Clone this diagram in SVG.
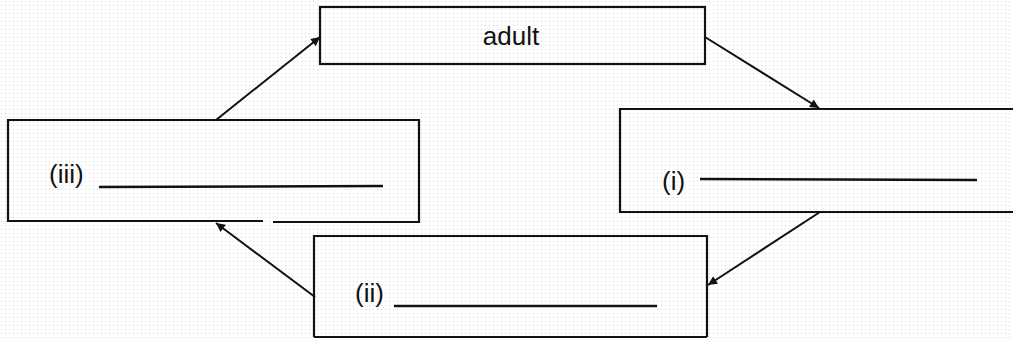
<svg xmlns="http://www.w3.org/2000/svg" width="1013" height="338" viewBox="0 0 1013 338">
<defs>
<pattern id="dots" width="4" height="4" patternUnits="userSpaceOnUse"><rect x="1" y="1" width="1" height="1" fill="#d4d4d4"/></pattern>
<marker id="ah" viewBox="0 0 10 10" refX="10" refY="5" markerWidth="10" markerHeight="9" markerUnits="userSpaceOnUse" orient="auto"><path d="M0,0 L10,5 L0,10 Z" fill="#111"/></marker>
<style>
.box{fill:none;stroke:#111;stroke-width:2.2}
.lbl{font-family:"Liberation Sans",Arial,sans-serif;font-size:26px;fill:#111}
.blank{stroke:#111;stroke-width:2.5}
.conn{stroke:#111;stroke-width:2;fill:none}
</style>
</defs>
<rect width="1013" height="338" fill="#fff"/>
<rect width="1013" height="338" fill="url(#dots)"/>
<g id="adult">
<rect class="box" x="320" y="7" width="385" height="57"/>
<text class="lbl" x="511" y="45" text-anchor="middle">adult</text>
</g>
<g id="stage-i">
<path class="box" d="M1015,109 L620,109 L620,212 L1015,212"/>
<text class="lbl" x="662" y="190">(i)</text>
<line class="blank" x1="700" y1="179" x2="977" y2="180"/>
</g>
<g id="stage-ii">
<path class="box" d="M314,337 L314,236 L707,236 L707,337"/>
<line class="box" x1="314" y1="337" x2="707" y2="337"/>
<text class="lbl" x="355" y="302">(ii)</text>
<line class="blank" x1="394" y1="306" x2="657" y2="306"/>
</g>
<g id="stage-iii">
<path class="box" d="M263,221 L8,221 L8,120 L419,120 L419,222 L273,222"/>
<text class="lbl" x="49" y="183">(iii)</text>
<line class="blank" x1="99" y1="187" x2="383" y2="186"/>
</g>
<g id="connectors">
<line class="conn" x1="216" y1="120" x2="320" y2="37" marker-end="url(#ah)"/>
<line class="conn" x1="705" y1="37" x2="819" y2="108" marker-end="url(#ah)"/>
<line class="conn" x1="820" y1="212" x2="708" y2="285" marker-end="url(#ah)"/>
<line class="conn" x1="315" y1="297" x2="216" y2="223" marker-end="url(#ah)"/>
</g>
</svg>
